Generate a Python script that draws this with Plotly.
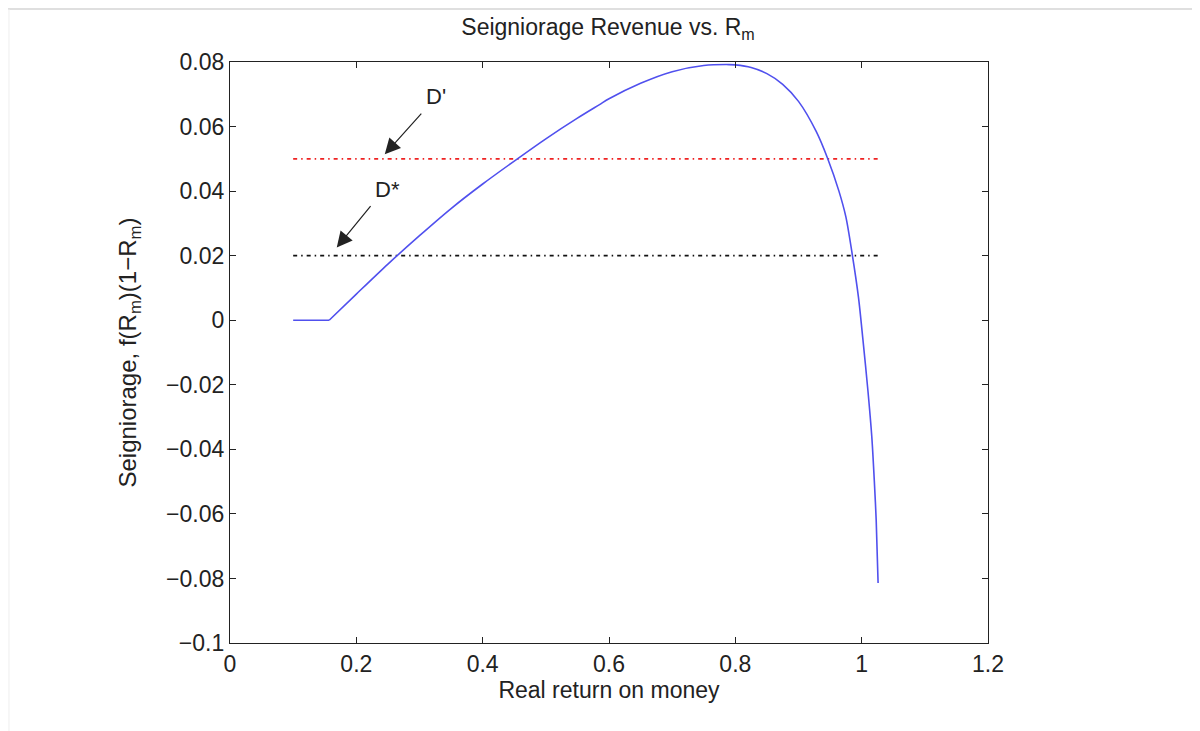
import plotly.graph_objects as go

# Curve
rm_values = [0.100, 0.157, 0.200, 0.250, 0.300, 0.350, 0.400, 0.455, 0.500, 0.550,
             0.585, 0.600, 0.650, 0.700, 0.750, 0.790, 0.800, 0.825, 0.850, 0.875,
             0.900, 0.928, 0.946, 0.964, 0.975, 0.985, 0.995, 1.002, 1.010, 1.016,
             1.020, 1.023, 1.026]
seigniorage = [0.0, 0.0, 0.0081, 0.0174, 0.0262, 0.0346, 0.0422, 0.0500, 0.0562, 0.0626,
               0.0668, 0.0686, 0.0734, 0.0770, 0.0789, 0.0792, 0.0791, 0.0783, 0.0764, 0.0731,
               0.0678, 0.0585, 0.0502, 0.0400, 0.0320, 0.0205, 0.0070, -0.0060, -0.0220, -0.0360,
               -0.0497, -0.0620, -0.0814]
kink_index = 1  # end of the flat stretch

# Reference levels
level_x = [0.100, 1.026]
d_prime = 0.05
d_star = 0.02

x_ticks = [0, 0.2, 0.4, 0.6, 0.8, 1.0, 1.2]
x_ticktext = ["0", "0.2", "0.4", "0.6", "0.8", "1", "1.2"]
y_ticks = [-0.1, -0.08, -0.06, -0.04, -0.02, 0, 0.02, 0.04, 0.06, 0.08]
y_ticktext = ["\u22120.1", "\u22120.08", "\u22120.06", "\u22120.04", "\u22120.02", "0",
              "0.02", "0.04", "0.06", "0.08"]

font_family = "Liberation Sans, Arial, sans-serif"
txt = "#222222"
tick_size = 23
title_size = 23
curve_color = "#5050ee"

fig = go.Figure()
fig.add_trace(go.Scatter(x=level_x, y=[d_prime, d_prime], mode="lines",
                         line=dict(color="#ee2222", width=1.6, dash="4px,4px,1.5px,4px"),
                         hoverinfo="skip", showlegend=False))
fig.add_trace(go.Scatter(x=level_x, y=[d_star, d_star], mode="lines",
                         line=dict(color="#111111", width=1.6, dash="4px,4px,1.5px,4px"),
                         hoverinfo="skip", showlegend=False))
# flat stretch and the smooth curve (same series, split at the kink)
fig.add_trace(go.Scatter(x=rm_values[:kink_index + 1], y=seigniorage[:kink_index + 1],
                         mode="lines", line=dict(color=curve_color, width=1.6),
                         showlegend=False))
fig.add_trace(go.Scatter(x=rm_values[kink_index:], y=seigniorage[kink_index:],
                         mode="lines", line=dict(color=curve_color, width=1.6,
                                                 shape="spline", smoothing=0.8),
                         showlegend=False))

fig.add_annotation(x=0.245, y=0.0514, ax=0.305, ay=0.0645, xref="x", yref="y",
                   axref="x", ayref="y", text="", showarrow=True, arrowhead=2,
                   arrowsize=2.6, arrowwidth=1.2, arrowcolor="#222")
fig.add_annotation(x=0.326, y=0.0694, text="D'", showarrow=False,
                   font=dict(size=22, color=txt, family=font_family))
fig.add_annotation(x=0.169, y=0.0225, ax=0.2245, ay=0.0358, xref="x", yref="y",
                   axref="x", ayref="y", text="", showarrow=True, arrowhead=2,
                   arrowsize=2.6, arrowwidth=1.2, arrowcolor="#222")
fig.add_annotation(x=0.250, y=0.0405, text="D*", showarrow=False,
                   font=dict(size=22, color=txt, family=font_family))

# page frame lines
fig.add_shape(type="line", xref="paper", yref="paper", x0=-0.30, x1=1.30,
              y0=1.0912, y1=1.0912, line=dict(color="#d4d4d4", width=1.5))
fig.add_shape(type="line", xref="paper", yref="paper", x0=-0.2916, x1=-0.2916,
              y0=1.0912, y1=-0.17, line=dict(color="#eeeeee", width=1))

axis_common = dict(showline=True, linecolor="#222", linewidth=1.3, mirror="ticks",
                   ticks="inside", ticklen=6, tickcolor="#222", showgrid=False,
                   zeroline=False, tickfont=dict(size=tick_size, color=txt, family=font_family))

fig.update_xaxes(range=[0, 1.2], tickvals=x_ticks, ticktext=x_ticktext,
                 title=dict(text="Real return on money", standoff=5,
                            font=dict(size=title_size, color=txt, family=font_family)),
                 **axis_common)
fig.update_yaxes(range=[-0.1, 0.08], tickvals=y_ticks, ticktext=y_ticktext,
                 title=dict(text="Seigniorage, f(R<sub>m</sub>)(1\u2212R<sub>m</sub>)", standoff=22,
                            font=dict(size=24, color=txt, family=font_family)),
                 **axis_common)

fig.update_layout(
    width=1200, height=731,
    margin=dict(l=222, r=220, t=54, b=96),
    paper_bgcolor="white", plot_bgcolor="white",
    title=dict(text="Seigniorage Revenue vs. R<sub>m</sub>", x=0.5, xanchor="center",
               y=0.974, yanchor="middle",
               font=dict(size=title_size, color=txt, family=font_family)),
    font=dict(family=font_family, color=txt),
)

fig.write_html("out.html")
